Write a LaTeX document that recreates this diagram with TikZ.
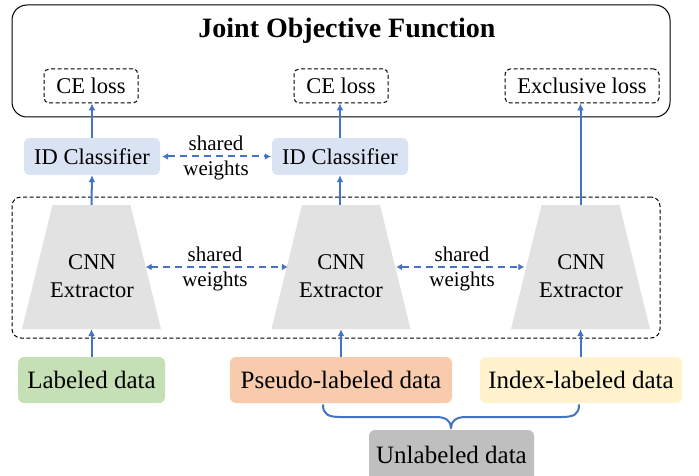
\documentclass[tikz,border=0pt]{standalone}
\usepackage{fontspec}
\setmainfont{Liberation Serif}
\usetikzlibrary{arrows.meta,calc}
\definecolor{arrblue}{HTML}{4472C4}
\definecolor{clsfill}{HTML}{DAE3F3}
\definecolor{cnnfill}{HTML}{E2E2E2}
\definecolor{labfill}{HTML}{C5E0B4}
\definecolor{psdfill}{HTML}{F8CBAD}
\definecolor{idxfill}{HTML}{FFF2CC}
\definecolor{unlfill}{HTML}{BFBFBF}
\tikzset{
  txt/.style={font=\fontsize{22.5}{28}\selectfont, align=center, inner sep=0pt},
  losbox/.style={draw, dashed, dash pattern=on 4pt off 2.5pt, line width=1pt, rounded corners=5pt, minimum height=34pt, inner sep=0pt, font=\fontsize{22.5}{28}\selectfont},
  clsbox/.style={fill=clsfill, rounded corners=5pt, minimum width=136pt, minimum height=37pt, inner sep=0pt, font=\fontsize{22.5}{28}\selectfont},
  cnnbox/.style={minimum width=110pt, minimum height=124pt, inner sep=0pt},
  databox/.style={rounded corners=6pt, minimum height=46pt, inner sep=0pt, font=\fontsize{25}{30}\selectfont},
  sw/.style={font=\fontsize{21}{25}\selectfont, inner sep=0pt},
  uparrow/.style={draw=arrblue, line width=2pt, -{Latex[length=7pt,width=7pt]}},
  sharedarrow/.style={draw=arrblue, line width=2pt, dash pattern=on 7pt off 5pt, {Latex[length=6pt,width=7pt]}-{Latex[length=6pt,width=7pt]}},
}
\newcommand{\trapfill}[1]{%
  \fill[cnnfill] ($(#1.center)+(-39,-62)$) -- ($(#1.center)+(39,-62)$)
    -- ($(#1.center)+(69.5,62)$) -- ($(#1.center)+(-69.5,62)$) -- cycle;}
\begin{document}
\begin{tikzpicture}[x=1pt,y=-1pt]
\clip (0,0) rectangle (699,476);
\useasboundingbox (0,0) rectangle (699,476);

% top objective box
\node[draw, line width=1pt, rounded corners=15pt, minimum width=658pt, minimum height=112pt] (obj) at (341,61) {};
\node[font=\fontsize{28}{32}\selectfont\bfseries, inner sep=0pt] (title) at (347,31) {Joint Objective Function};

\node[losbox, minimum width=94pt] (ce1) at (91,86) {CE loss};
\node[losbox, minimum width=94pt] (ce2) at (341,86) {CE loss};
\node[losbox, minimum width=154pt] (ex3) at (582,86) {Exclusive loss};

% classifiers
\node[clsbox] (cls1) at (92,156.5) {ID Classifier};
\node[clsbox] (cls2) at (340,156.5) {ID Classifier};
\node[sw] (sw0a) at (216,143) {shared};
\node[sw] (sw0b) at (216,170) {weights};
\draw[sharedarrow, shorten <=2pt, shorten >=1pt] (cls1.east) -- (cls2.west);

% dashed group
\node[draw, dashed, dash pattern=on 4pt off 2.5pt, line width=1pt, rounded corners=9pt, minimum width=648pt, minimum height=141pt] (grp) at (336,267.5) {};

% CNN extractors
\node[cnnbox] (cnn1) at (91.5,267) {};
\node[cnnbox] (cnn2) at (341,267) {};
\node[cnnbox] (cnn3) at (580.5,267) {};
\trapfill{cnn1}
\trapfill{cnn2}
\trapfill{cnn3}
\node[txt] (t1) at (92,276) {CNN\\Extractor};
\node[txt] (t2) at (341,276) {CNN\\Extractor};
\node[txt] (t3) at (581,276) {CNN\\Extractor};

\node[sw] (sw1a) at (215,254) {shared};
\node[sw] (sw1b) at (215,281) {weights};
\node[sw] (sw2a) at (462,254) {shared};
\node[sw] (sw2b) at (462,281) {weights};
\draw[sharedarrow, shorten <=-1pt, shorten >=-2pt] (cnn1.east) -- (cnn2.west);
\draw[sharedarrow, shorten <=0pt, shorten >=1pt] (cnn2.east) -- (cnn3.west);

% data boxes
\node[databox, fill=labfill, minimum width=147pt] (lab) at (91.5,380) {Labeled data};
\node[databox, fill=psdfill, minimum width=222pt] (psd) at (341,380) {Pseudo-labeled data};
\node[databox, fill=idxfill, minimum width=202pt] (idx) at (581,380) {Index-labeled data};
\node[databox, fill=unlfill, minimum width=165pt, minimum height=52pt, text depth=0pt] (unl) at (451.5,456) {\raisebox{2pt}{Unlabeled data}};

% arrows
\draw[uparrow] (lab.north) -- (cnn1.south);
\draw[uparrow] (psd.north -| cnn2.south) -- (cnn2.south);
\draw[uparrow] (idx.north -| cnn3.south) -- (cnn3.south);
\draw[uparrow] (cnn1.north) -- (cls1.south);
\draw[uparrow] (cnn2.north -| cls2.south) -- (cls2.south);
\draw[uparrow] (cls1.north) -- (cls1.north |- ce1.south);
\draw[uparrow] (cls2.north) -- (cls2.north |- ce2.south);
\draw[uparrow] (cnn3.north) -- (cnn3.north |- ex3.south);

% brace
\coordinate (bl) at (323,405);
\coordinate (br) at (579,405);
\coordinate (bm) at (451,428);
\draw[arrblue, line width=2pt, line cap=round]
  (bl) .. controls (323,414) and (328,417) .. (340,417)
  -- (436,417) .. controls (446,417) and (451,421) .. (bm);
\draw[arrblue, line width=2pt, line cap=round]
  (br) .. controls (579,414) and (574,417) .. (562,417)
  -- (466,417) .. controls (456,417) and (451,421) .. (bm);
\end{tikzpicture}
\end{document}
